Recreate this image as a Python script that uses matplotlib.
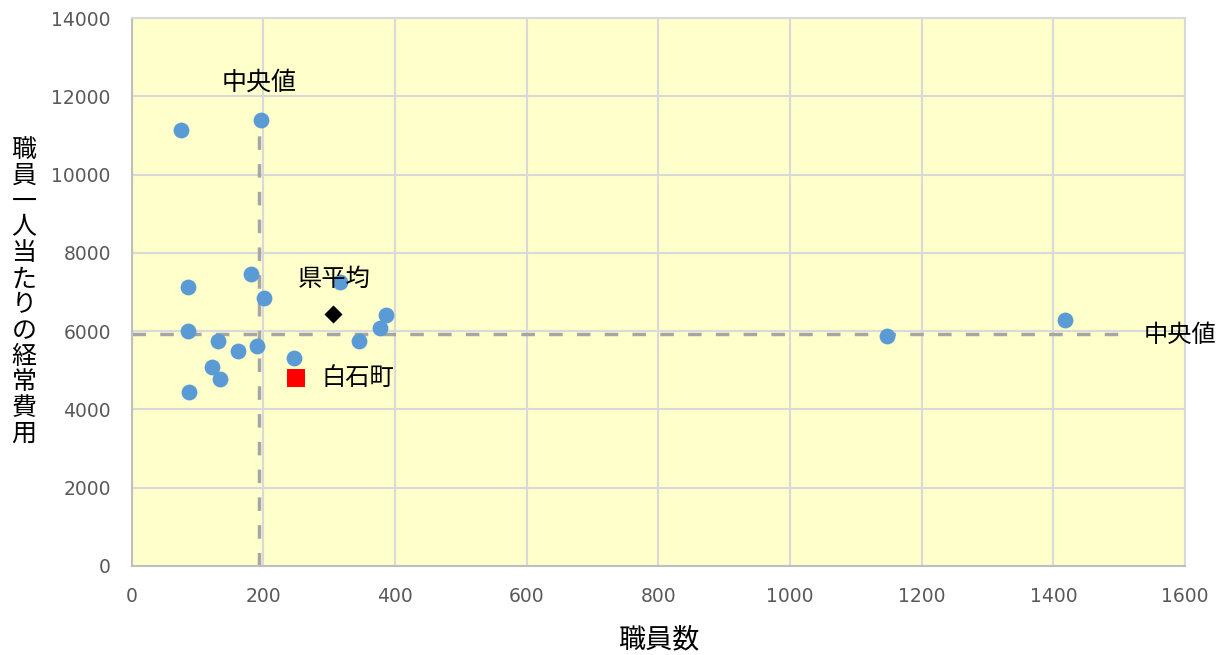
import numpy as np
import matplotlib.pyplot as plt

plt.rcParams['font.family'] = ['Noto Sans CJK JP', 'DejaVu Sans']

# other municipalities (staff count, running cost per staff)
staff = [75, 197, 181, 86, 201, 317, 386, 378, 85, 131, 346, 190, 162, 247, 122, 135, 87, 1147, 1417]
cost = [11130, 11400, 7460, 7120, 6840, 7245, 6420, 6090, 5995, 5757, 5748, 5630, 5493, 5306, 5077, 4788, 4456, 5867, 6276]

pref_avg = (306, 6436)
shiroishi = (250, 4813)

median_x = 193.6
median_y = 5936

fig = plt.figure(figsize=(12.23, 6.55), dpi=100)
ax = fig.add_axes([0.1076, 0.136, 0.8614, 0.8365])
ax.set_facecolor('#ffffcc')

dash = (0, (3.9, 4.1))
ax.plot([median_x, median_x], [0, 11300], linestyle=dash, color='#a6a6a6', lw=2.5, zorder=2)
ax.plot([0, 1500], [median_y, median_y], linestyle=dash, color='#a6a6a6', lw=2.5, zorder=2)

ax.scatter(staff, cost, s=130, color='#5b9bd5', zorder=3, linewidths=0)
ax.scatter([pref_avg[0]], [pref_avg[1]], marker='D', s=85, color='black', zorder=3, linewidths=0)
ax.scatter([shiroishi[0]], [shiroishi[1]], marker='s', s=150, color='#ff0000', zorder=3, linewidths=0)

ax.text(median_x, 12350, '中央値', ha='center', va='center', fontsize=18)
ax.text(307, 7320, '県平均', ha='center', va='center', fontsize=17.5)
ax.text(289, 4804, '白石町', ha='left', va='center', fontsize=17.5)
ax.text(1537, 5890, '中央値', ha='left', va='center', fontsize=17.5, clip_on=False)

ax.set_xlim(0, 1600)
ax.set_ylim(0, 14000)
ax.set_xticks(np.arange(0, 1601, 200))
ax.set_yticks(np.arange(0, 14001, 2000))
ax.tick_params(length=0, labelsize=13.5, labelcolor='#595959', pad=15)
for lab in ax.get_xticklabels() + ax.get_yticklabels():
    lab.set_family('DejaVu Sans')
ax.grid(True, color='#d9d9d9', lw=1.5, zorder=1)
ax.set_axisbelow(True)
for sp in ax.spines.values():
    sp.set_color('#d9d9d9')
    sp.set_linewidth(1.5)
ax.spines['left'].set_color('#bfbfbf')
ax.spines['bottom'].set_color('#bfbfbf')

ax.set_xlabel('職員数', fontsize=19.5)
ax.xaxis.label.set_va('center')
ax.xaxis.set_label_coords(0.5, -0.135)
fig.text(0.0196, 0.554, '\n'.join('職員一人当たりの経常費用'), ha='center', va='center',
         fontsize=18, linespacing=0.99)

fig.savefig('out.png', dpi=100)
